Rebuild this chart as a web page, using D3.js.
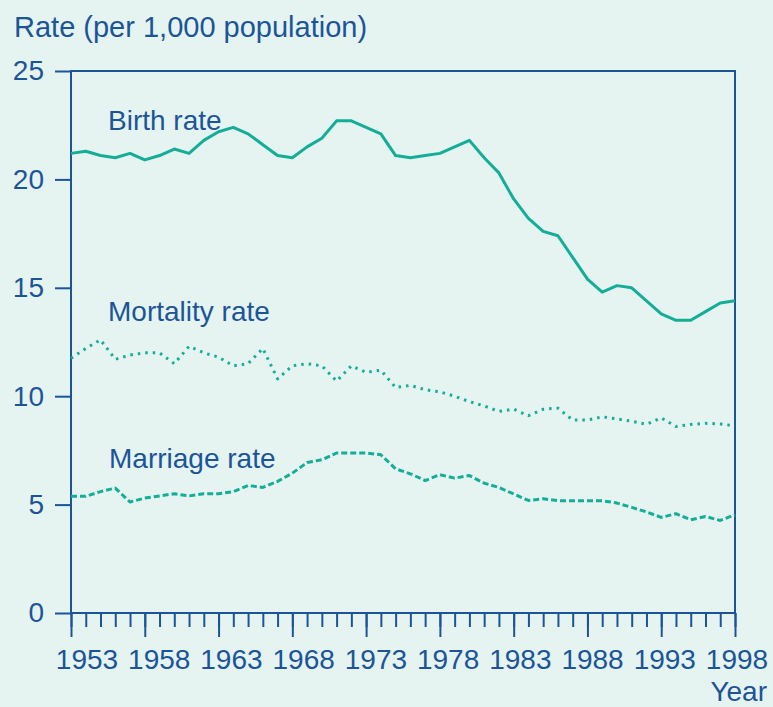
<!DOCTYPE html>
<html>
<head>
<meta charset="utf-8">
<script src="https://cdn.jsdelivr.net/npm/d3@7"></script>
<style>
  body { margin: 0; background: #e5f4f1; }
  svg text { font-family: "Liberation Sans", Arial, sans-serif; fill: #1c5597; }
</style>
</head>
<body>
<div id="chart"></div>
<script>
// data, one value per year 1953-1998
const years = d3.range(1953, 1999);
const birthRate = [21.2, 21.3, 21.1, 21.0, 21.2, 20.9, 21.1, 21.4, 21.2, 21.8,
  22.2, 22.4, 22.1, 21.6, 21.1, 21.0, 21.5, 21.9, 22.7, 22.7,
  22.4, 22.1, 21.1, 21.0, 21.1, 21.2, 21.5, 21.8, 21.0, 20.3,
  19.1, 18.2, 17.6, 17.4, 16.4, 15.4, 14.8, 15.1, 15.0, 14.4,
  13.8, 13.5, 13.5, 13.9, 14.3, 14.4];
const mortalityRate = [11.75, 12.2, 12.6, 11.7, 11.9, 12.0, 12.0, 11.5, 12.3, 12.0,
  11.8, 11.4, 11.5, 12.2, 10.8, 11.4, 11.5, 11.4, 10.7, 11.4,
  11.1, 11.2, 10.4, 10.5, 10.3, 10.2, 10.0, 9.75, 9.55, 9.3,
  9.4, 9.1, 9.4, 9.45, 8.9, 8.9, 9.05, 8.95, 8.85, 8.7,
  9.0, 8.6, 8.7, 8.75, 8.72, 8.63];
const marriageRate = [5.38, 5.38, 5.6, 5.76, 5.12, 5.3, 5.4, 5.5, 5.4, 5.5,
  5.5, 5.6, 5.88, 5.79, 6.07, 6.45, 6.94, 7.07, 7.38, 7.38,
  7.38, 7.3, 6.65, 6.42, 6.11, 6.38, 6.22, 6.34, 5.99, 5.79,
  5.49, 5.19, 5.27, 5.18, 5.18, 5.18, 5.18, 5.07, 4.87, 4.66,
  4.41, 4.58, 4.3, 4.45, 4.27, 4.53];
const yTicks = [0, 5, 10, 15, 20, 25];
const xLabelYears = [1953, 1958, 1963, 1968, 1973, 1978, 1983, 1988, 1993, 1998];

const width = 773, height = 707;
const blue = '#1c5597', teal = '#14ad98';

const svg = d3.select('#chart').append('svg').attr('width', width).attr('height', height);

const x = d3.scaleLinear().domain([1953, 1998]).range([71, 735]);
const y = d3.scaleLinear().domain([0, 25]).range([613, 71]);
// year labels in the original sit a bit right of their ticks, packed a little tighter
const xLabel = d3.scaleLinear().domain([1953, 1998]).range([87, 737]);

// y axis
const yAxis = d3.axisLeft(y).tickValues(yTicks).tickSize(16).tickPadding(11);
const gy = svg.append('g').attr('transform', 'translate(71,0)').call(yAxis);
gy.select('.domain').remove();
gy.selectAll('line').attr('stroke', blue).attr('stroke-width', 2);
gy.selectAll('text').style('font-size', '28px').attr('fill', blue);

// x axis: minor ticks every year, longer ticks every 5 years
const gxMinor = svg.append('g').attr('transform', 'translate(0,613)')
  .call(d3.axisBottom(x).tickValues(years).tickSize(14).tickFormat(''));
gxMinor.select('.domain').remove();
gxMinor.selectAll('line').attr('stroke', blue).attr('stroke-width', 2);

const gx = svg.append('g').attr('transform', 'translate(0,613)')
  .call(d3.axisBottom(x).tickValues(xLabelYears).tickSize(24).tickFormat(''));
gx.select('.domain').remove();
gx.selectAll('line').attr('stroke', blue).attr('stroke-width', 2);

svg.append('g').selectAll('text').data(xLabelYears).enter().append('text')
  .attr('x', d => xLabel(d))
  .attr('y', 669)
  .attr('text-anchor', 'middle')
  .style('font-size', '28px')
  .text(d => d);

// frame
svg.append('path')
  .attr('d', `M${x(1953)},${y(0)}V${y(25)}H${x(1998)}V${y(0)}H${x(1953)}`)
  .attr('fill', 'none').attr('stroke', blue).attr('stroke-width', 2);

// lines
const line = d3.line().x((d, i) => x(years[i])).y(d => y(d));
const series = [
  { values: birthRate, dash: null },
  { values: mortalityRate, dash: '2.5,5' },
  { values: marriageRate, dash: '6,3' }
];
svg.selectAll('.series').data(series).enter().append('path')
  .attr('class', 'series')
  .attr('d', d => line(d.values))
  .attr('fill', 'none')
  .attr('stroke', teal)
  .attr('stroke-width', 3)
  .attr('stroke-linejoin', 'round')
  .attr('stroke-dasharray', d => d.dash);

// series labels
svg.append('text').attr('x', 108).attr('y', 130).style('font-size', '28px').text('Birth rate');
svg.append('text').attr('x', 108).attr('y', 321).style('font-size', '28px').text('Mortality rate');
svg.append('text').attr('x', 109).attr('y', 468).style('font-size', '28px').text('Marriage rate');

// axis titles
svg.append('text').attr('x', 14).attr('y', 37).style('font-size', '29px').text('Rate (per 1,000 population)');
svg.append('text').attr('x', 767).attr('y', 701).attr('text-anchor', 'end').style('font-size', '28px').text('Year');
</script>
</body>
</html>
